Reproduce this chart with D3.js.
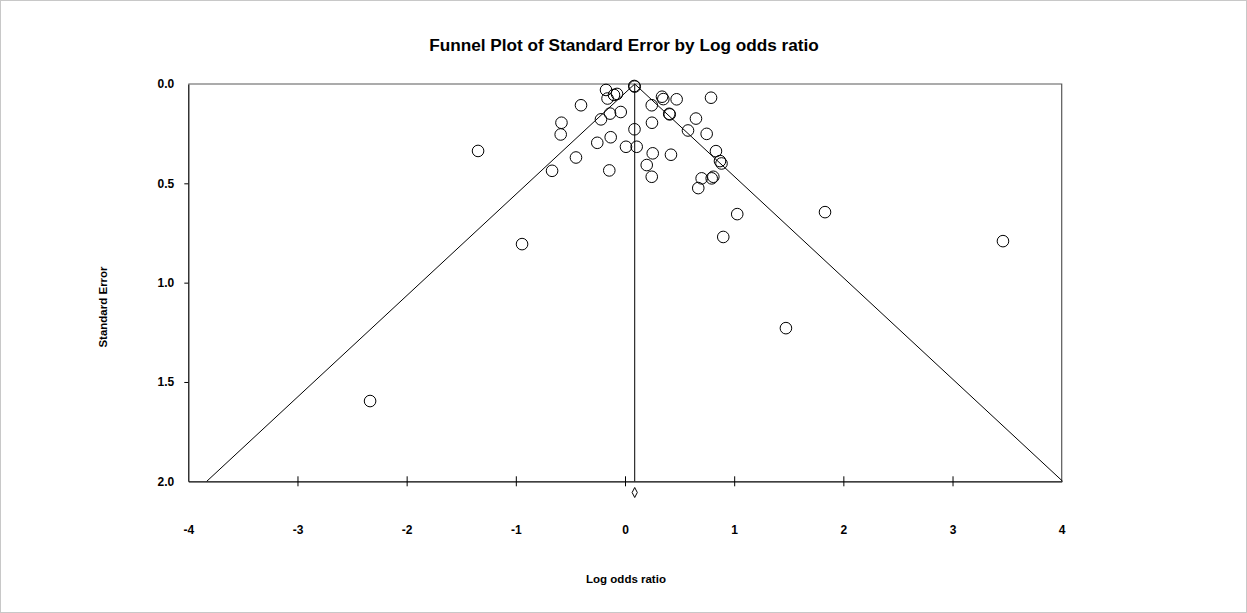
<!DOCTYPE html>
<html><head><meta charset="utf-8">
<script src="https://cdn.jsdelivr.net/npm/d3@7"></script>
<style>body{margin:0;background:#fff}svg{display:block}text{font-family:"Liberation Sans",Arial,sans-serif;font-weight:bold;fill:#000}</style>
</head><body><svg id="c" width="1247" height="613"></svg>
<script>
// Study log odds ratios and standard errors
const logOdds = [0.089,0.085,-0.174,-0.160,-0.101,-0.073,-0.403,-0.582,-0.589,-0.220,-0.137,-0.039,0.087,-0.131,-0.254,0.009,0.107,-0.449,-0.668,-0.144,0.245,0.339,0.351,0.473,0.788,0.247,0.405,0.410,0.650,0.577,0.748,0.254,0.421,0.199,0.245,0.833,0.870,0.884,0.702,0.794,0.809,0.671,1.028,0.900,-1.346,-0.943,-2.335,1.832,3.462,1.474];
const stdErr = [0.013,0.010,0.030,0.073,0.055,0.050,0.107,0.195,0.254,0.178,0.149,0.141,0.228,0.268,0.296,0.316,0.316,0.370,0.437,0.435,0.107,0.064,0.076,0.077,0.069,0.195,0.150,0.153,0.174,0.234,0.251,0.349,0.356,0.408,0.467,0.338,0.388,0.400,0.475,0.475,0.467,0.524,0.655,0.770,0.337,0.806,1.596,0.645,0.791,1.229];
const summaryEffect = 0.089;
const summaryCI = [0.069, 0.109];
const xTicks = [-4,-3,-2,-1,0,1,2,3,4];
const yTicks = [0.0,0.5,1.0,1.5,2.0];
const titleText = "Funnel Plot of Standard Error by Log odds ratio";
const xLabel = "Log odds ratio";
const yLabel = "Standard Error";

const svg = d3.select("#c");
const L=188.3, R=1061.7, T=84, B=481.3;
const x = d3.scaleLinear().domain([-4,4]).range([L,R]);
const y = d3.scaleLinear().domain([0,2]).range([T,B]);

svg.append("rect").attr("x",0.5).attr("y",0.5).attr("width",1246).attr("height",612)
  .attr("fill","#fff").attr("stroke","#c8c8c8");

svg.append("text").attr("x",624).attr("y",51).attr("text-anchor","middle")
  .style("font-size","17.2px").text(titleText);

// plot frame (top and right)
svg.append("path").attr("d",`M${L},${T}H${R}V${B}`).attr("fill","none").attr("stroke","#595959").attr("stroke-width",1.2);

// funnel lines
const funnel = [[summaryEffect-1.96*2,2],[summaryEffect,0],[summaryEffect+1.96*2,2]];
svg.append("path").attr("d",d3.line().x(d=>x(d[0])).y(d=>y(d[1]))(funnel))
  .attr("fill","none").attr("stroke","#000").attr("stroke-width",1);
svg.append("line").attr("x1",x(summaryEffect)).attr("x2",x(summaryEffect)).attr("y1",y(0)).attr("y2",y(2))
  .attr("stroke","#000").attr("stroke-width",1);

// axes
const xAxis = d3.axisBottom(x).tickValues(xTicks).tickFormat(d=>String(d)).tickSizeInner(5).tickSizeOuter(0).tickPadding(40);
const gx = svg.append("g").attr("transform",`translate(0,${B})`).call(xAxis);
gx.select(".domain").attr("stroke","#000").attr("stroke-width",1.2);
gx.selectAll(".tick line").attr("y1",-5).attr("stroke","#000").filter(d=>d===-4||d===4).remove();
gx.selectAll(".tick text").attr("dy","0").attr("y",53).style("font-size","12px").style("font-family","'Liberation Sans',Arial,sans-serif");

const yAxis = d3.axisLeft(y).tickValues(yTicks).tickFormat(d3.format(".1f")).tickSizeInner(4).tickSizeOuter(0).tickPadding(10);
const gy = svg.append("g").attr("transform",`translate(${L},0)`).call(yAxis);
gy.select(".domain").attr("stroke","#000").attr("stroke-width",1.2);
gy.selectAll(".tick line").attr("stroke","#000").filter(d=>d===0||d===2).remove();
gy.selectAll(".tick text").style("font-size","12px").style("font-family","'Liberation Sans',Arial,sans-serif");

// summary diamond
const dy0 = 492.5;
svg.append("path").attr("d",`M${x(summaryCI[0])-0.4},${dy0}L${x(summaryEffect)},${dy0-5}L${x(summaryCI[1])+0.4},${dy0}L${x(summaryEffect)},${dy0+5}Z`)
  .attr("fill","none").attr("stroke","#000").attr("stroke-width",1);

// points
svg.append("g").selectAll("circle").data(logOdds.map((v,i)=>[v,stdErr[i]])).join("circle")
  .attr("cx",d=>x(d[0])).attr("cy",d=>y(d[1])).attr("r",5.8)
  .attr("fill","none").attr("stroke","#000").attr("stroke-width",1);

svg.append("text").attr("x",626).attr("y",583).attr("text-anchor","middle").style("font-size","11.5px").text(xLabel);
svg.append("text").attr("transform","translate(107,307) rotate(-90)").attr("text-anchor","middle").style("font-size","11.5px").text(yLabel);
</script></body></html>
